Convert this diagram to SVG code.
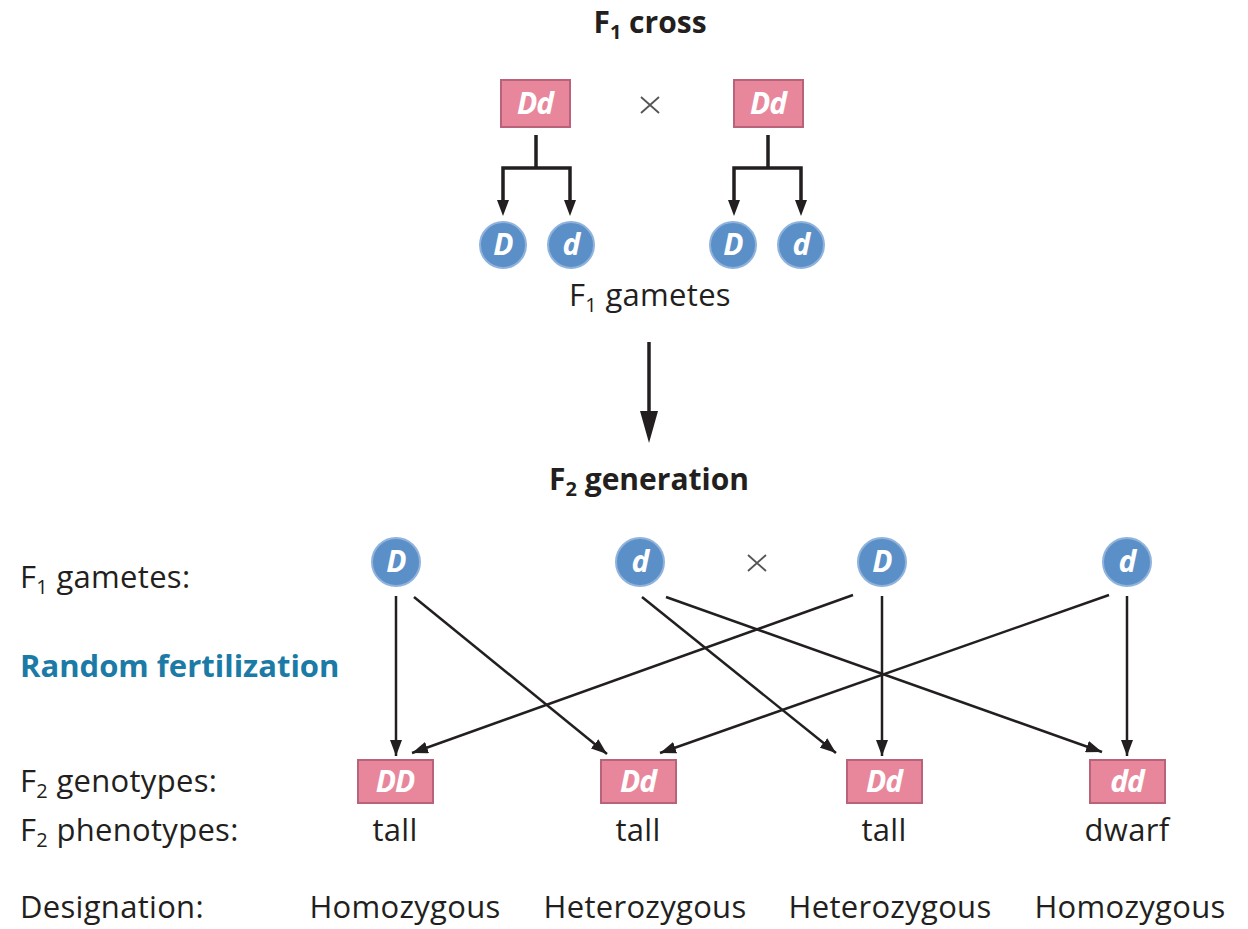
<svg xmlns="http://www.w3.org/2000/svg" width="1248" height="929" viewBox="0 0 1248 929">
<style>
.t{font-family:"Open Sans","Liberation Sans",sans-serif;font-size:31px;fill:#231f20;letter-spacing:0.3px}
.b{font-weight:bold;font-size:30px;letter-spacing:0}
.sub{font-size:20px}
.blue{fill:#1b7aa6;font-size:31px}
.box{fill:#e8879c;stroke:#b8637a;stroke-width:2}
.circ{fill:#5b8fc7;stroke:#8fb3dc;stroke-width:2}
.lbl{font-family:"Open Sans","Liberation Sans",sans-serif;font-size:30px;font-weight:bold;font-style:italic;fill:#fff;text-anchor:middle;letter-spacing:-1px}
.ln{stroke:#231f20;stroke-width:2.5;fill:none}
.ln3{stroke:#231f20;stroke-width:3.5;fill:none}
.x{stroke:#555;stroke-width:1.8}
</style>
<defs>
<marker id="ah" viewBox="0 0 16 12" refX="16" refY="6" markerWidth="16" markerHeight="12" markerUnits="userSpaceOnUse" orient="auto">
<path d="M0,0 L16,6 L0,12 z" fill="#231f20"/>
</marker>
</defs>

<g id="title">
<text class="t b" x="650" y="33" text-anchor="middle">F<tspan class="sub" dy="6">1</tspan><tspan dy="-6"> cross</tspan></text>
</g>
<g id="parent1"><rect class="box" x="501" y="80" width="69" height="47"/><text class="lbl" x="535" y="114">Dd</text></g>
<g id="cross1"><path class="x" d="M641,97 L659,113 M659,97 L641,113"/></g>
<g id="parent2"><rect class="box" x="734" y="80" width="69" height="47"/><text class="lbl" x="768" y="114">Dd</text></g>

<g id="g1D"><circle class="circ" cx="503" cy="245" r="23"/><text class="lbl" x="503" y="255">D</text></g>
<g id="g1d"><circle class="circ" cx="571" cy="245" r="23"/><text class="lbl" x="571" y="255">d</text></g>
<g id="g2D"><circle class="circ" cx="733" cy="245" r="23"/><text class="lbl" x="733" y="255">D</text></g>
<g id="g2d"><circle class="circ" cx="801" cy="245" r="23"/><text class="lbl" x="801" y="255">d</text></g>

<g id="f1gametes">
<text class="t" x="650" y="306" text-anchor="middle">F<tspan class="sub" dy="6">1</tspan><tspan dy="-6"> gametes</tspan></text>
</g>

<g id="f2gen">
<text class="t b" x="649" y="490" text-anchor="middle">F<tspan class="sub" dy="6">2</tspan><tspan dy="-6"> generation</tspan></text>
</g>

<g id="labels">
<text class="t" x="20" y="588">F<tspan class="sub" dy="6">1</tspan><tspan dy="-6"> gametes:</tspan></text>
<text class="t b blue" x="20" y="677">Random fertilization</text>
<text class="t" x="20" y="792">F<tspan class="sub" dy="6">2</tspan><tspan dy="-6"> genotypes:</tspan></text>
<text class="t" x="20" y="841">F<tspan class="sub" dy="6">2</tspan><tspan dy="-6"> phenotypes:</tspan></text>
<text class="t" x="20" y="918">Designation:</text>
</g>

<g id="b1"><circle class="circ" cx="396" cy="562" r="24"/><text class="lbl" x="396" y="572">D</text></g>
<g id="b2"><circle class="circ" cx="640" cy="562" r="24"/><text class="lbl" x="640" y="572">d</text></g>
<g id="cross2"><path class="x" d="M748,555 L766,571 M766,555 L748,571"/></g>
<g id="b3"><circle class="circ" cx="882" cy="562" r="24"/><text class="lbl" x="882" y="572">D</text></g>
<g id="b4"><circle class="circ" cx="1127" cy="562" r="24"/><text class="lbl" x="1127" y="572">d</text></g>

<g id="o1"><rect class="box" x="358" y="760" width="75" height="43"/><text class="lbl" x="395" y="792">DD</text><text class="t" x="395" y="841" text-anchor="middle">tall</text><text class="t" x="405" y="918" text-anchor="middle">Homozygous</text></g>
<g id="o2"><rect class="box" x="601" y="760" width="75" height="43"/><text class="lbl" x="638" y="792">Dd</text><text class="t" x="638" y="841" text-anchor="middle">tall</text><text class="t" x="645" y="918" text-anchor="middle">Heterozygous</text></g>
<g id="o3"><rect class="box" x="847" y="760" width="75" height="43"/><text class="lbl" x="884" y="792">Dd</text><text class="t" x="884" y="841" text-anchor="middle">tall</text><text class="t" x="890" y="918" text-anchor="middle">Heterozygous</text></g>
<g id="o4"><rect class="box" x="1090" y="760" width="75" height="43"/><text class="lbl" x="1127" y="792">dd</text><text class="t" x="1127" y="841" text-anchor="middle">dwarf</text><text class="t" x="1130" y="918" text-anchor="middle">Homozygous</text></g>

<g id="connectors">
<path class="ln3" d="M536,135 V168 M503,205 V168 H570 V205"/>
<path d="M497,200 L509,200 L503,216 z M564,200 L576,200 L570,216 z" fill="#231f20"/>
<path class="ln3" d="M768,135 V168 M734,205 V168 H801 V205"/>
<path d="M728,200 L740,200 L734,216 z M795,200 L807,200 L801,216 z" fill="#231f20"/>
<path class="ln3" d="M649,342 V420"/>
<path d="M640,411 L658,411 L649,443 z" fill="#231f20"/>
<path class="ln" d="M396,596 V756" marker-end="url(#ah)"/>
<path class="ln" d="M414,597 L607,754" marker-end="url(#ah)"/>
<path class="ln" d="M642,597 L836,753" marker-end="url(#ah)"/>
<path class="ln" d="M666,597 L1102,752" marker-end="url(#ah)"/>
<path class="ln" d="M853,595 L412,753" marker-end="url(#ah)"/>
<path class="ln" d="M882,596 V756" marker-end="url(#ah)"/>
<path class="ln" d="M1109,595 L660,753" marker-end="url(#ah)"/>
<path class="ln" d="M1127,596 V756" marker-end="url(#ah)"/>
</g>
</svg>
